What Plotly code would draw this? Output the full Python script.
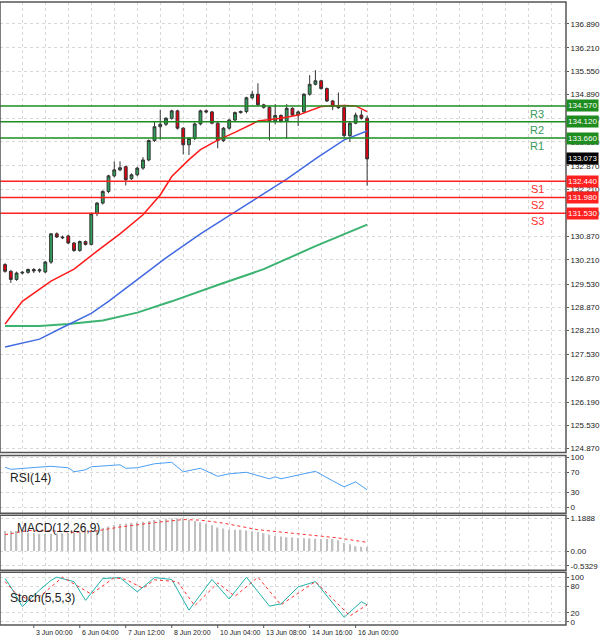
import plotly.graph_objects as go

idx = list(range(1, 65))
opens = [130.08,129.89,129.66,129.84,129.86,129.94,129.90,129.87,130.15,130.95,130.86,130.89,130.69,130.48,130.73,130.65,
         131.52,131.82,132.15,132.59,132.76,132.85,132.51,132.62,132.81,133.04,133.59,133.98,134.05,134.22,134.43,133.94,
         133.47,133.65,134.06,134.43,134.40,134.08,133.59,133.94,134.17,134.38,134.41,134.80,134.90,134.60,134.53,134.14,
         134.30,134.14,134.50,134.31,134.40,134.90,135.18,135.28,135.06,134.71,134.55,134.52,133.73,134.08,134.31,134.22]
closes = [129.89,129.66,129.84,129.86,129.94,129.90,129.93,130.15,130.95,130.86,130.84,130.69,130.48,130.73,130.65,131.52,
          131.82,132.15,132.59,132.76,132.82,132.48,132.62,132.81,133.04,133.59,133.98,134.05,134.22,134.43,133.94,133.47,
          133.65,134.06,134.43,134.40,134.08,133.59,133.94,134.17,134.38,134.41,134.80,134.90,134.60,134.53,134.14,134.30,
          134.14,134.50,134.31,134.40,134.90,135.18,135.28,135.06,134.71,134.55,134.52,133.73,134.08,134.31,134.22,133.07]
highs = [130.12,129.92,129.88,129.90,129.97,129.98,129.97,130.18,130.97,130.99,130.90,130.93,130.72,130.76,130.76,131.55,
         131.85,132.18,132.62,133.00,133.00,132.88,132.66,132.85,133.12,133.62,134.12,134.46,134.25,134.46,134.46,133.97,
         133.68,134.10,134.46,134.47,134.43,134.12,133.97,134.20,134.41,134.44,134.83,135.00,135.21,134.63,134.57,134.62,
         134.33,134.62,134.53,134.44,134.93,135.44,135.58,135.31,135.09,134.74,134.95,134.56,134.12,134.38,134.45,134.30]
lows = [129.85,129.56,129.62,129.80,129.82,129.84,129.85,129.84,130.10,130.83,130.80,130.66,130.44,130.44,130.62,130.62,
        131.45,131.78,132.10,132.55,132.72,132.32,132.48,132.58,132.76,133.00,133.55,133.61,134.00,134.18,133.90,133.20,
        133.18,133.60,134.02,134.36,134.05,133.37,133.55,133.90,134.14,134.35,134.36,134.76,134.57,134.49,133.59,134.05,
        134.10,133.64,134.28,134.00,134.36,134.86,135.15,135.03,134.68,134.45,134.49,133.65,133.55,134.05,134.18,132.31]

ma_red_x = [1,4,9,13,17,21,25,28,30,33,35,38,41,45,49,52,56,60,62,64]
ma_red_y = [128.40,129.04,129.61,129.95,130.46,130.95,131.49,132.05,132.57,133.05,133.33,133.60,133.82,134.14,134.22,134.31,134.55,134.58,134.57,134.41]
ma_blue_x = [1,7,11,16,19,24,29,35,41,46,50,55,58,60,64]
ma_blue_y = [127.75,127.97,128.30,128.70,129.04,129.65,130.27,130.95,131.58,132.10,132.50,133.07,133.40,133.61,133.86]
ma_green_x = [1,7,12,18,24,30,38,46,55,64]
ma_green_y = [128.34,128.34,128.40,128.50,128.72,129.04,129.50,129.95,130.60,131.21]

levels_res = [("R3", 134.570), ("R2", 134.120), ("R1", 133.660)]
levels_sup = [("S1", 132.440), ("S2", 131.980), ("S3", 131.530)]
last_price = 133.073

rsi_x = [1,2,9,12,13,15,16,19,21,22,24,27,30,32,35,38,40,43,47,48,49,53,55,58,60,62,64]
rsi_y = [80,76,82,79,71,75,81,84,85,78,79,87,90,71,78,62,67,70,57,61,57,67,72,53,41,51,35]

macd_hist = [0.73,0.73,0.73,0.70,0.67,0.65,0.63,0.63,0.63,0.64,0.65,0.66,0.67,0.69,0.71,0.73,0.76,0.84,0.90,0.95,0.99,
             1.01,1.03,1.04,1.07,1.10,1.13,1.15,1.18,1.19,1.20,1.20,1.14,1.10,1.05,1.00,0.94,0.86,0.82,0.78,0.78,0.78,
             0.75,0.72,0.70,0.65,0.60,0.55,0.53,0.51,0.50,0.48,0.47,0.46,0.45,0.44,0.44,0.44,0.40,0.30,0.25,0.18,0.16,0.15]
macd_sig_x = [1,5,10,13,17,21,27,32,35,39,45,51,55,59,64]
macd_sig_y = [0.60,0.75,0.73,0.68,0.74,0.88,1.04,1.15,1.13,1.02,0.78,0.65,0.55,0.48,0.32]

stk_x = [1,2,4,7,9,10,13,15,18,21,24,27,30,33,37,40,43,47,49,52,55,60,63,64]
stk_y = [97,78,34,71,93,100,90,48,97,99,67,99,95,26,95,51,100,35,40,78,90,10,45,38]
std_x = [1,3,6,11,16,20,22,25,27,31,34,38,41,45,49,55,61,64]
std_y = [90,62,45,100,62,99,95,75,94,90,36,87,57,100,38,90,13,38]

date_labels = ["2 Jun 16:00","3 Jun 00:00","6 Jun 04:00","7 Jun 12:00","8 Jun 20:00","10 Jun 04:00","13 Jun 08:00","14 Jun 16:00","16 Jun 00:00"]
date_pos = [-2.0, 6.0, 14.0, 22.0, 30.0, 38.0, 46.0, 54.0, 62.0]

main_ticks = [136.890,136.210,135.550,134.890,134.210,133.550,132.870,132.210,131.530,130.870,130.210,129.530,128.870,128.210,127.530,126.870,126.190,125.530,124.870]

W, H, B = 600, 643, 13
PH = H - B
def py(px):
    return 1 - px / PH
XR = 566 / W

fig = go.Figure()
fig.add_trace(go.Candlestick(x=idx, open=opens, high=highs, low=lows, close=closes,
    increasing=dict(fillcolor="#2f9e5a", line=dict(color="#333333", width=1)),
    decreasing=dict(fillcolor="#e00010", line=dict(color="#333333", width=1)),
    whiskerwidth=0, xaxis="x", yaxis="y", showlegend=False, hoverinfo="skip"))
fig.add_trace(go.Scatter(x=ma_green_x, y=ma_green_y, mode="lines", line=dict(color="#3cb371", width=2), yaxis="y", showlegend=False))
fig.add_trace(go.Scatter(x=ma_blue_x, y=ma_blue_y, mode="lines", line=dict(color="#4169e1", width=1.5), yaxis="y", showlegend=False))
fig.add_trace(go.Scatter(x=ma_red_x, y=ma_red_y, mode="lines", line=dict(color="#ff1a1a", width=1.5), yaxis="y", showlegend=False))

fig.add_trace(go.Scatter(x=rsi_x, y=rsi_y, mode="lines", line=dict(color="#4a9ff5", width=1), yaxis="y2", showlegend=False))
fig.add_trace(go.Bar(x=idx, y=macd_hist, marker=dict(color="#c0c0c0", line=dict(width=0)), width=0.25, yaxis="y3", showlegend=False))
fig.add_trace(go.Scatter(x=macd_sig_x, y=macd_sig_y, mode="lines", line=dict(color="#ff3030", width=1, dash="dot"), yaxis="y3", showlegend=False))
fig.add_trace(go.Scatter(x=stk_x, y=stk_y, mode="lines", line=dict(color="#20b2aa", width=1), yaxis="y4", showlegend=False))
fig.add_trace(go.Scatter(x=std_x, y=std_y, mode="lines", line=dict(color="#ff3030", width=1, dash="dot"), yaxis="y4", showlegend=False))

shapes, annos = [], []
for name, v in levels_res + levels_sup:
    col = "#1e8c1e" if name[0] == "R" else "#ff2020"
    shapes.append(dict(type="line", xref="paper", x0=0, x1=XR, yref="y", y0=v, y1=v, line=dict(color=col, width=1.5)))
    annos.append(dict(xref="paper", x=0.998, xanchor="right", yref="y", y=v, yanchor="middle", text=f"{v:.3f}",
                      showarrow=False, bgcolor=col, font=dict(color="white", size=8, family="Liberation Sans"), borderpad=1))
    annos.append(dict(xref="paper", x=537 / W, xanchor="center", yref="y", y=v, yshift=-8, yanchor="middle", text=name,
                      showarrow=False, font=dict(color="#3a9a5a" if name[0] == "R" else "#ff3030", size=11, family="Liberation Sans")))
annos.append(dict(xref="paper", x=0.998, xanchor="right", yref="y", y=last_price, yanchor="middle", text=f"{last_price:.3f}",
                  showarrow=False, bgcolor="black", font=dict(color="white", size=8, family="Liberation Sans"), borderpad=1))
for t, yy in [("RSI(14)", 478), ("MACD(12,26,9)", 528), ("Stoch(5,5,3)", 598)]:
    annos.append(dict(xref="paper", x=8 / W if t != "MACD(12,26,9)" else 15 / W, xanchor="left", yref="paper", y=py(yy),
                      yanchor="middle", text=t, showarrow=False, font=dict(size=12, color="#222", family="Liberation Sans")))
for t, p in zip(date_labels, date_pos):
    annos.append(dict(xref="x", x=p, xanchor="left", yref="paper", y=py(627), yanchor="top", text=t, showarrow=False,
                      font=dict(size=7, color="#222", family="Liberation Sans")))
    shapes.append(dict(type="line", xref="x", x0=p, x1=p, yref="paper", y0=py(625), y1=py(628), line=dict(color="#555", width=1)))

for top, bot in [(0, 452), (455, 513), (515, 570), (572, 625)]:
    shapes.append(dict(type="rect", xref="paper", x0=0, x1=XR, yref="paper", y0=py(bot), y1=py(top),
                       line=dict(color="#555", width=1.5), layer="above"))

grid = dict(showgrid=True, gridcolor="#d8d8d8", griddash="dot", gridwidth=1)
tf = dict(size=8, color="#222", family="Liberation Sans")
yax = dict(side="right", ticks="outside", ticklen=2, tickcolor="#555", tickfont=tf, zeroline=False, anchor="x", **grid)

fig.update_layout(
    width=W, height=H, margin=dict(l=0, r=0, t=0, b=B), plot_bgcolor="white", paper_bgcolor="white",
    bargap=0.8, showlegend=False,
    xaxis=dict(domain=[0, XR], range=[0.12, 98.6], showticklabels=False, rangeslider=dict(visible=False),
               tick0=0, dtick=4, anchor="y4", zeroline=False, **grid),
    yaxis=dict(domain=[py(452), 1], range=[124.76, 137.51], tickvals=main_ticks,
               ticktext=[f"{v:.3f}" for v in main_ticks], **yax),
    yaxis2=dict(domain=[py(513), py(455)], range=[-11.9, 103.4], tickvals=[0, 30, 70, 100], **yax),
    yaxis3=dict(domain=[py(570), py(515)], range=[-0.695, 1.303], tickvals=[-0.5329, 0, 1.1888],
                ticktext=["-0.5329", "0.00", "1.1888"], **yax),
    yaxis4=dict(domain=[py(625), py(572)], range=[-7.4, 111.2], tickvals=[0, 20, 80, 100], **yax),
    shapes=shapes, annotations=annos,
)
fig.write_html("out.html", config={"displayModeBar": False},
               post_script="document.body.style.margin='0';document.body.style.overflow='hidden';")
